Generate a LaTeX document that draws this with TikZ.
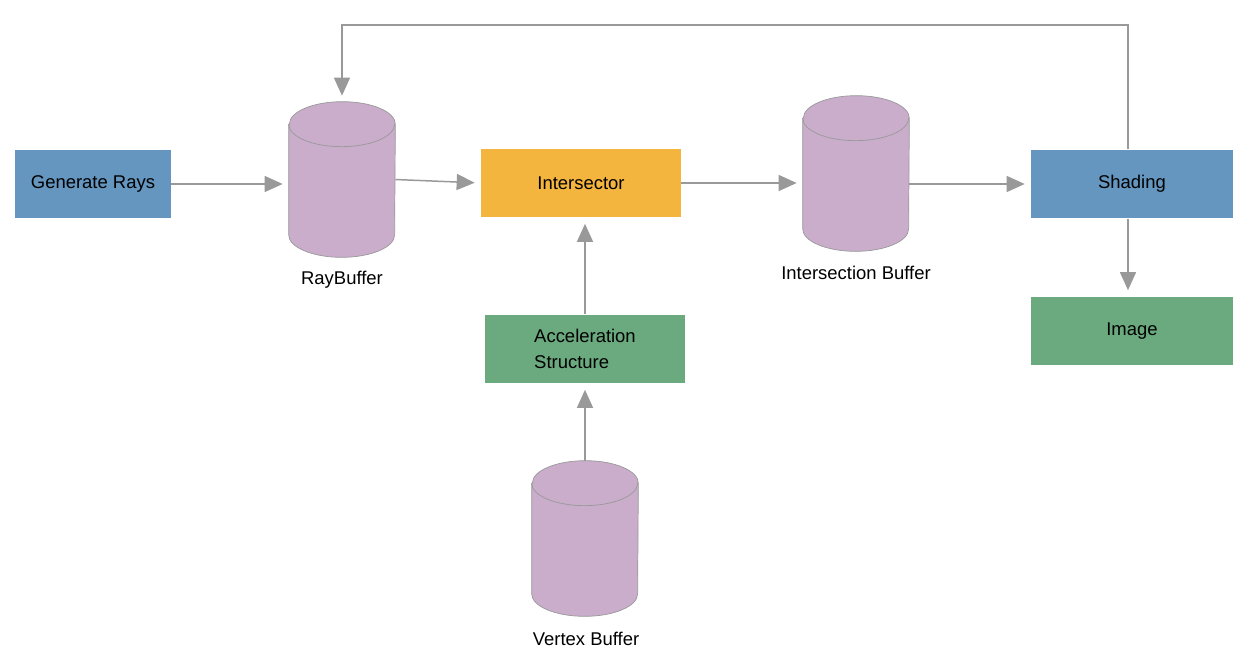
\documentclass[tikz,border=0pt]{standalone}
\usepackage{fontspec}
\setmainfont{Liberation Sans}
\usepackage{tikz}
\usetikzlibrary{arrows.meta, positioning, shapes.geometric}
\usepackage{xcolor}
\definecolor{stageblue}{HTML}{6496BF}
\definecolor{stagegreen}{HTML}{6AAA7E}
\definecolor{stageorange}{HTML}{F4B53F}
\definecolor{bufferpink}{HTML}{C9ADCB}
\definecolor{flowgray}{HTML}{999999}

% cylinder drawn inside the frame of a named buffer node
\newcommand{\cylbody}[1]{%
  \filldraw[fill=bufferpink, draw=black!40, line width=0.4pt]
    ([yshift=-0.45cm]#1.north west) -- ([yshift=0.45cm]#1.south west)
    arc[start angle=180, end angle=360, x radius=1.06cm, y radius=0.45cm]
    -- ([yshift=-0.45cm]#1.north east)
    arc[start angle=0, end angle=180, x radius=1.06cm, y radius=0.45cm] -- cycle;
  \draw[black!40, line width=0.4pt] ([yshift=-0.45cm]#1.north west)
    arc[start angle=180, end angle=360, x radius=1.06cm, y radius=0.45cm];
}

\begin{document}
\begin{tikzpicture}[
      x=0.02cm, y=0.02cm,
      >={Triangle[length=0.36cm, width=0.32cm]},
      font=\fontsize{10.5}{14}\selectfont,
      stage/.style={
        rectangle, align=center, inner sep=0pt,
        minimum width=4.0cm, minimum height=1.38cm
      },
      buffer/.style={
        rectangle, inner sep=0pt,
        minimum width=2.12cm, minimum height=3.1cm
      },
      caption/.style={inner sep=1pt},
      flow/.style={->, draw=flowgray, line width=0.85pt, shorten >=0.12cm}
    ]
    \useasboundingbox (0,0) rectangle (1252,-666);

    \node[stage, fill=stageblue, minimum width=3.12cm] (gen) at (93,-184) {Generate Rays};
    \node[buffer] (rb) at (342,-179.5) {};
    \node[caption] (rbl) at (342,-280) {RayBuffer};

    \node[stage, fill=stageorange] (isect) at (581,-183) {Intersector};
    \node[stage, fill=stagegreen, align=left,
          font=\fontsize{10.5}{15}\selectfont] (acc) at (585,-349) {Acceleration\\Structure};
    \node[buffer] (vb) at (585,-538.5) {};
    \node[caption] (vbl) at (586,-639) {Vertex Buffer};

    \node[buffer] (ib) at (856,-173.5) {};
    \node[caption] (ibl) at (856,-273) {Intersection Buffer};

    \node[stage, fill=stageblue, minimum width=4.04cm] (shade) at (1132,-184) {Shading};
    \node[stage, fill=stagegreen, minimum width=4.04cm] (img) at (1132,-331) {Image};

    \cylbody{rb}
    \cylbody{vb}
    \cylbody{ib}

    \coordinate (loop) at (342,-25);

    \draw[flow] (gen.east) -- (gen.east -| rb.west);
    \draw[flow] (rb.east) -- (isect.west);
    \draw[flow] (isect.east) -- (isect.east -| ib.west);
    \draw[flow] (ib.east |- shade.west) -- (shade.west);
    \draw[flow] ([xshift=-0.08cm]shade.south) -- ([xshift=-0.08cm]img.north);
    \draw[flow] (acc.north) -- (acc.north |- isect.south);
    \draw[flow] (vb.north) -- (vb.north |- acc.south);
    \draw[flow] ([xshift=-0.08cm]shade.north) |- (loop) -- (rb.north);
  \end{tikzpicture}
\end{document}
